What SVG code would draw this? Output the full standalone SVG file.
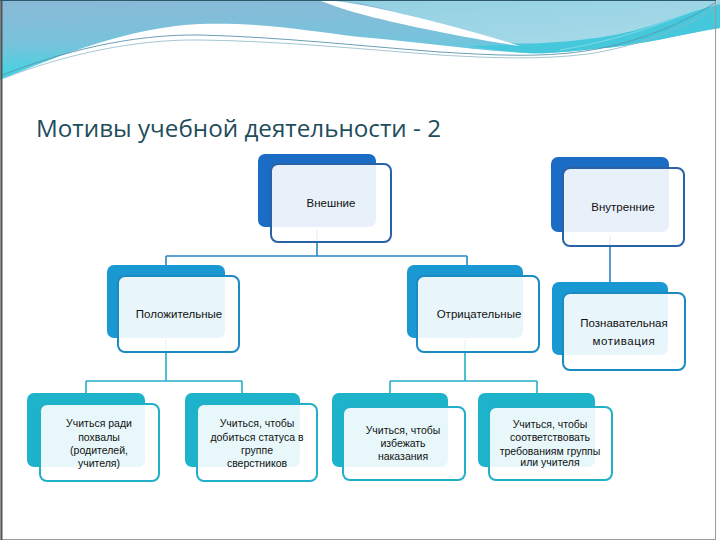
<svg xmlns="http://www.w3.org/2000/svg" width="720" height="540" viewBox="0 0 720 540">
<defs>
<linearGradient id="gBase" x1="0" y1="0" x2="0.15" y2="1">
<stop offset="0" stop-color="#8ab9d6"/>
<stop offset="0.55" stop-color="#78c3dc"/>
<stop offset="1" stop-color="#38d6e2"/>
</linearGradient>
<linearGradient id="gLight" x1="0" y1="0" x2="1" y2="1">
<stop offset="0" stop-color="#92d0e2"/>
<stop offset="1" stop-color="#a8dbea"/>
</linearGradient>
<style>
.back1{fill:#1a6cc4}
.back2{fill:#1a98d2}
.back3{fill:#1cb3cb}
.front{fill:#ffffff;fill-opacity:0.9;stroke-width:2}
.f1{stroke:#2a62a6}
.f2{stroke:#1a8cc2}
.f3{stroke:#20b0c8}
.t{font-family:"Liberation Sans","DejaVu Sans",sans-serif;fill:#111;text-anchor:middle}
.tm{font-size:11.5px}
.tb{font-size:10.5px}
.c1{stroke:#2a86c4;stroke-width:1.6;fill:none}
.c2{stroke:#24aec6;stroke-width:1.6;fill:none}
</style>
</defs>
<rect x="0" y="0" width="720" height="540" fill="#ffffff"/>
<g id="header">
<path d="M0,0 H720 V28 C680,34 640,46 593,49 C565,52 545,54 527,53 C470,50 420,42 360,37 C310,31 260,22 200,24 C130,27 60,55 0,80 Z" fill="url(#gBase)"/>
<path d="M322,0 H720 V6 C690,20 640,40 593,42 C560,44 530,44 510,43 C460,28 400,12 360,3 Z" fill="url(#gLight)"/>
<path d="M470,46 C540,44 600,42 650,26 C680,16 700,9 720,4 V28 C680,34 640,46 593,49 C565,52 545,54 527,53 C505,51 488,49 470,46 Z" fill="#46c8dc"/>
<path d="M318,0 H326 C350,2 380,8 420,18 C460,28 495,38 520,46 C490,42 450,34 420,28 C390,21 360,16 318,0 Z" fill="#ffffff"/>
<path d="M0,76 C60,52 130,34 200,35 C280,37 360,46 440,52 C490,55 540,58 585,51 C640,43 690,20 716,2" fill="none" stroke="#5a95ab" stroke-width="0.9"/>
<path d="M4,78 C64,55 134,39 200,40 C280,41 360,49 440,55 C490,58 540,60 588,54 C642,46 692,24 718,6" fill="none" stroke="#8db8c8" stroke-width="0.8"/>
<path d="M560,50 C620,40 670,22 712,2" fill="none" stroke="#8fdbe8" stroke-width="0.8"/>
</g>
<rect x="1" y="0.5" width="714.5" height="539" fill="none" stroke="#9a9a9a" stroke-width="1"/>
<line x1="1.5" y1="0" x2="1.5" y2="540" stroke="#555" stroke-width="2"/>
<line x1="0" y1="0.5" x2="716" y2="0.5" stroke="#2c5b6c" stroke-width="1.2"/>
<text x="36" y="137" font-family="'Open Sans','DejaVu Sans',sans-serif" font-size="23" fill="#1f4d5c" textLength="405" lengthAdjust="spacingAndGlyphs">Мотивы учебной деятельности - 2</text>
<g id="connectors">
<path class="c1" d="M317,230 V256 M166,256 H467 M166,256 V268 M467,256 V268"/>
<path class="c1" d="M610,236 V285"/>
<path class="c2" d="M166,340 V381 M86,381 H242 M86,381 V396 M242,381 V396"/>
<path class="c2" d="M465,340 V381 M390,381 H537 M390,381 V396 M537,381 V396"/>
</g>
<g id="n-vneshnie">
<rect class="back1" x="258" y="154" width="118" height="73" rx="7"/>
<rect class="front f1" x="271" y="164" width="120" height="78" rx="7"/>
<text class="t tm" x="331" y="207">Внешние</text>
</g>
<g id="n-vnutrennie">
<rect class="back1" x="551" y="157" width="118" height="75" rx="7"/>
<rect class="front f1" x="563" y="168" width="121" height="78" rx="7"/>
<text class="t tm" x="623" y="211">Внутренние</text>
</g>
<g id="n-polozhitelnye">
<rect class="back2" x="107" y="265" width="118" height="73" rx="7"/>
<rect class="front f2" x="118" y="276" width="121" height="76" rx="7"/>
<text class="t tm" x="179" y="318">Положительные</text>
</g>
<g id="n-otritsatelnye">
<rect class="back2" x="407" y="265" width="116" height="73" rx="7"/>
<rect class="front f2" x="417" y="276" width="122" height="76" rx="7"/>
<text class="t tm" x="479" y="318">Отрицательные</text>
</g>
<g id="n-poznavatelnaya">
<rect class="back2" x="552" y="282" width="116" height="73" rx="7"/>
<rect class="front f2" x="563" y="293" width="122" height="77" rx="7"/>
<text class="t tm" x="624" y="327">Познавательная</text>
<text class="t tm" x="624" y="345" letter-spacing="0.6">мотивация</text>
</g>
<g id="n-pokhvala">
<rect class="back3" x="27" y="393" width="118" height="74" rx="7"/>
<rect class="front f3" x="40" y="404" width="119" height="77" rx="7"/>
<text class="t tb" x="99" y="427">Учиться ради</text>
<text class="t tb" x="99" y="441">похвалы</text>
<text class="t tb" x="99" y="454">(родителей,</text>
<text class="t tb" x="99" y="467">учителя)</text>
</g>
<g id="n-status">
<rect class="back3" x="185" y="393" width="115" height="74" rx="7"/>
<rect class="front f3" x="197" y="404" width="120" height="77" rx="7"/>
<text class="t tb" x="257" y="427">Учиться, чтобы</text>
<text class="t tb" x="257" y="441">добиться статуса в</text>
<text class="t tb" x="257" y="454">группе</text>
<text class="t tb" x="257" y="467">сверстников</text>
</g>
<g id="n-nakazanie">
<rect class="back3" x="332" y="393" width="116" height="74" rx="7"/>
<rect class="front f3" x="343" y="407" width="122" height="73" rx="7"/>
<text class="t tb" x="403" y="434">Учиться, чтобы</text>
<text class="t tb" x="403" y="447">избежать</text>
<text class="t tb" x="403" y="460">наказания</text>
</g>
<g id="n-trebovaniya">
<rect class="back3" x="478" y="393" width="117" height="74" rx="7"/>
<rect class="front f3" x="489" y="407" width="123" height="73" rx="7"/>
<text class="t tb" x="550" y="428">Учиться, чтобы</text>
<text class="t tb" x="550" y="441">соответствовать</text>
<text class="t tb" x="550" y="455">требованиям группы</text>
<text class="t tb" x="550" y="466">или учителя</text>
</g>
</svg>
